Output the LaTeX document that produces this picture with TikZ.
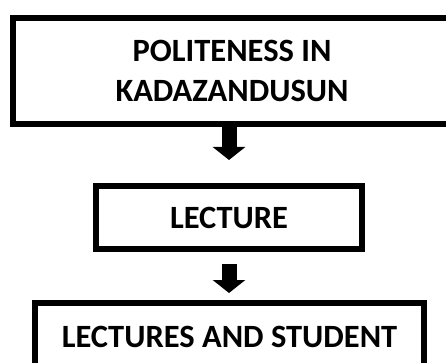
\documentclass[tikz,border=0pt]{standalone}
\usepackage{fontspec}
\setmainfont{Carlito}
\usetikzlibrary{arrows.meta}
\begin{document}
\begin{tikzpicture}[x=1pt,y=-1pt,
    stagebox/.style={draw,line width=6pt,align=center,inner sep=0pt,
        font=\bfseries\fontsize{32.5}{40}\selectfont},
    blockarrow/.style={line width=15pt,-{Triangle[width=32pt,length=13pt]}}]
    \useasboundingbox (0,0) rectangle (446,363);
    \node[stagebox,minimum width=438pt,minimum height=106pt] (topic) at (232,71) {POLITENESS IN\\KADAZANDUSUN};
    \node[stagebox,minimum width=266pt,minimum height=63pt] (lecture) at (229,217.5) {LECTURE};
    \node[stagebox,minimum width=389pt,minimum height=68pt] (both) at (229.5,337) {LECTURES AND STUDENT};
    \draw[blockarrow,shorten >=23pt] (topic.south -| lecture) -- (lecture.north);
    \draw[blockarrow,shorten <=12pt,shorten >=7pt] (lecture.south) -- (both.north -| lecture);
\end{tikzpicture}
\end{document}
